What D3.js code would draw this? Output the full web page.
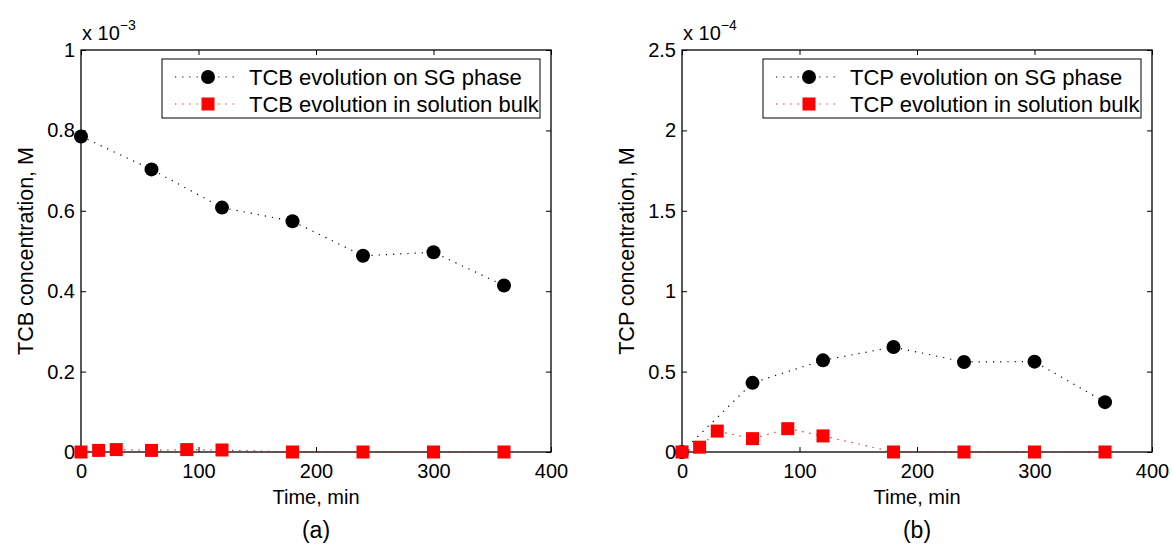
<!DOCTYPE html>
<html><head><meta charset="utf-8">
<script src="https://cdn.jsdelivr.net/npm/d3@7"></script>
<style>body{margin:0;background:#fff}svg{display:block}text{font-family:"Liberation Sans",Arial,sans-serif}</style>
</head><body>
<script>
// Panel (a): TCB
const timeSG = [0, 60, 120, 180, 240, 300, 360];
const timeBulk = [0, 15, 30, 60, 90, 120, 180, 240, 300, 360];
const tcbSG = [0.785, 0.703, 0.608, 0.574, 0.488, 0.497, 0.414];       // x 1e-3
const tcbBulk = [0, 0.004, 0.006, 0.004, 0.006, 0.005, 0, 0, 0, 0];   // x 1e-3
// Panel (b): TCP
const tcpSG = [0, 0.43, 0.57, 0.653, 0.56, 0.562, 0.31];               // x 1e-4
const tcpBulk = [0, 0.03, 0.13, 0.083, 0.145, 0.10, 0, 0, 0, 0];       // x 1e-4
const xTicks = [0, 100, 200, 300, 400];
const yTicksA = [0, 0.2, 0.4, 0.6, 0.8, 1];
const yTicksB = [0, 0.5, 1, 1.5, 2, 2.5];
const yLabelsA = ["0", "0.2", "0.4", "0.6", "0.8", "1"];
const yLabelsB = ["0", "0.5", "1", "1.5", "2", "2.5"];

const W = 1173, H = 550;
const svg = d3.select("body").append("svg").attr("width", W).attr("height", H);

function panel(cfg) {
  const x = d3.scaleLinear().domain([0, 400]).range([cfg.left, cfg.left + 470]);
  const y = d3.scaleLinear().domain([0, cfg.ymax]).range([452, 50]);
  const g = svg.append("g");
  const x0 = x.range()[0], x1 = x.range()[1], y0 = y.range()[0], y1 = y.range()[1];
  const tk = 5;
  g.append("g").attr("transform", `translate(0,${y0})`)
    .call(d3.axisBottom(x).tickValues(xTicks).tickSizeInner(-tk).tickSizeOuter(0).tickPadding(12))
    .call(s => s.select(".domain").remove());
  g.append("g").attr("transform", `translate(0,${y1})`)
    .call(d3.axisTop(x).tickValues(xTicks).tickSizeInner(-tk).tickSizeOuter(0).tickFormat(""))
    .call(s => s.select(".domain").remove());
  g.append("g").attr("transform", `translate(${x0},0)`)
    .call(d3.axisLeft(y).tickValues(cfg.yTicks).tickSizeInner(-tk).tickSizeOuter(0).tickPadding(6)
      .tickFormat((d, i) => cfg.yLabels[i]))
    .call(s => s.select(".domain").remove());
  g.append("g").attr("transform", `translate(${x1},0)`)
    .call(d3.axisRight(y).tickValues(cfg.yTicks).tickSizeInner(-tk).tickSizeOuter(0).tickFormat(""))
    .call(s => s.select(".domain").remove());
  g.selectAll(".tick text").attr("font-size", 20).attr("fill", "#000")
    .attr("font-family", "'Liberation Sans', Arial, sans-serif");
  g.selectAll(".tick line").attr("stroke", "#000");
  g.append("rect").attr("x", x0).attr("y", y1).attr("width", x1 - x0).attr("height", y0 - y1)
    .attr("fill", "none").attr("stroke", "#000").attr("stroke-width", 1.3);

  // exponent
  const ex = g.append("text").attr("x", x0 + 1).attr("y", 40).attr("font-size", 20);
  ex.append("tspan").text("x 10");
  ex.append("tspan").attr("dy", -10).attr("font-size", 14).text("\u2212" + cfg.exp);

  // lines
  const line = d3.line().x(d => x(d[0])).y(d => y(d[1]));
  const sg = cfg.sg.map((v, i) => [timeSG[i], v]);
  const bk = cfg.bulk.map((v, i) => [timeBulk[i], v]);
  g.append("path").attr("d", line(sg)).attr("fill", "none").attr("stroke", "#000")
    .attr("stroke-width", 1.2).attr("stroke-dasharray", "1.2,6");
  g.append("path").attr("d", line(bk)).attr("fill", "none").attr("stroke", "#f00")
    .attr("stroke-width", 1.2).attr("stroke-dasharray", "1.2,6");
  g.selectAll("circle.sg").data(sg).enter().append("circle")
    .attr("cx", d => x(d[0])).attr("cy", d => y(d[1])).attr("r", 7).attr("fill", "#000");
  const s = 13;
  g.selectAll("rect.bk").data(bk).enter().append("rect")
    .attr("x", d => x(d[0]) - s / 2).attr("y", d => y(d[1]) - s / 2).attr("width", s).attr("height", s)
    .attr("fill", "#f00");

  // labels
  g.append("text").attr("x", (x0 + x1) / 2).attr("y", 504).attr("text-anchor", "middle")
    .attr("font-size", 20).text("Time, min");
  g.append("text").attr("transform", `translate(${x0 - 48},${(y0 + y1) / 2}) rotate(-90)`)
    .attr("text-anchor", "middle").attr("font-size", 21.5).text(cfg.ylabel);
  g.append("text").attr("x", (x0 + x1) / 2).attr("y", 538).attr("text-anchor", "middle")
    .attr("font-size", 23).attr("font-family", "'Liberation Serif', 'DejaVu Serif', serif").text(cfg.sub);

  // legend
  const lx = cfg.left + 81, ly = 59, lw = 378, lh = 59;
  g.append("rect").attr("x", lx).attr("y", ly).attr("width", lw).attr("height", lh)
    .attr("fill", "#fff").attr("stroke", "#000").attr("stroke-width", 1);
  const rows = [{c: "#000", t: cfg.leg[0], m: "c"}, {c: "#f00", t: cfg.leg[1], m: "s"}];
  rows.forEach((r, i) => {
    const yy = ly + 18 + i * 27;
    g.append("line").attr("x1", lx + 13).attr("x2", lx + 76).attr("y1", yy).attr("y2", yy)
      .attr("stroke", r.c).attr("stroke-width", 1.2).attr("stroke-dasharray", "1.2,6");
    if (r.m === "c") g.append("circle").attr("cx", lx + 46).attr("cy", yy).attr("r", 7).attr("fill", r.c);
    else g.append("rect").attr("x", lx + 46 - s / 2).attr("y", yy - s / 2).attr("width", s).attr("height", s).attr("fill", r.c);
    g.append("text").attr("x", lx + 87).attr("y", yy + 7.5).attr("font-size", 22).text(r.t);
  });
}

panel({left: 81, ymax: 1, yTicks: yTicksA, yLabels: yLabelsA, exp: 3, sg: tcbSG, bulk: tcbBulk,
  ylabel: "TCB concentration, M", sub: "(a)",
  leg: ["TCB evolution on SG phase", "TCB evolution in solution bulk"]});
panel({left: 682, ymax: 2.5, yTicks: yTicksB, yLabels: yLabelsB, exp: 4, sg: tcpSG, bulk: tcpBulk,
  ylabel: "TCP concentration, M", sub: "(b)",
  leg: ["TCP evolution on SG phase", "TCP evolution in solution bulk"]});
</script>
</body></html>
